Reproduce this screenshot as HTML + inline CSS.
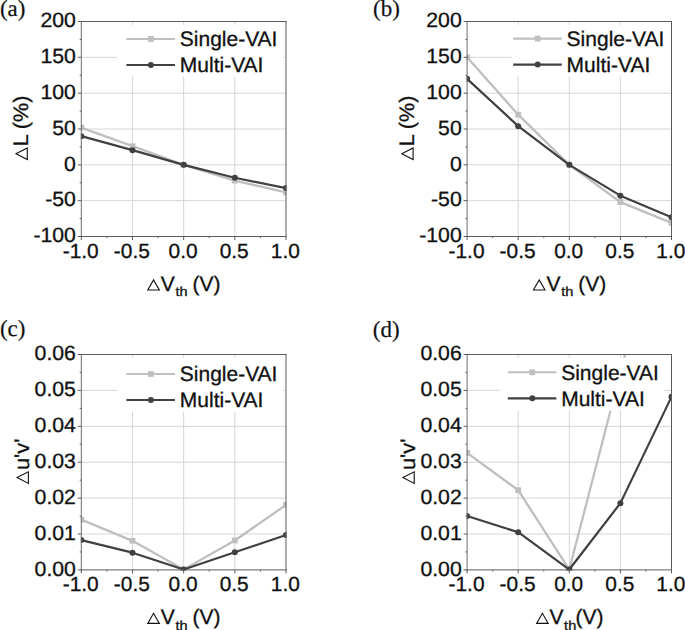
<!DOCTYPE html>
<html lang="en">
<head>
<meta charset="utf-8">
<title>Luminance and chromaticity variation vs threshold-voltage shift</title>
<style>
  html, body { margin: 0; padding: 0; background: #ffffff; }
  body { width: 685px; height: 630px; overflow: hidden; font-family: "Liberation Sans", sans-serif; }
  svg { display: block; }
  text { text-rendering: geometricPrecision; }
</style>
</head>
<body>
<svg width="685" height="630" viewBox="0 0 685 630">
<rect x="0" y="0" width="685" height="630" fill="#ffffff"/>
<g id="panel-a">
<clipPath id="clip1"><rect x="80.80" y="21.00" width="205.70" height="216.00"/></clipPath>
<text x="-0.1" y="15.8" font-family='"Liberation Serif", serif' font-size="23.0" fill="#111111" stroke="#111111" stroke-width="0.2">(a)</text>
<line x1="81.30" x2="286.00" y1="200.67" y2="200.67" stroke="#d6d6d6" stroke-width="1"/>
<line x1="81.30" x2="286.00" y1="164.83" y2="164.83" stroke="#d6d6d6" stroke-width="1"/>
<line x1="81.30" x2="286.00" y1="129.00" y2="129.00" stroke="#d6d6d6" stroke-width="1"/>
<line x1="81.30" x2="286.00" y1="93.17" y2="93.17" stroke="#d6d6d6" stroke-width="1"/>
<line x1="81.30" x2="286.00" y1="57.33" y2="57.33" stroke="#d6d6d6" stroke-width="1"/>
<line x1="132.47" x2="132.47" y1="21.50" y2="236.50" stroke="#d6d6d6" stroke-width="1"/>
<line x1="183.65" x2="183.65" y1="21.50" y2="236.50" stroke="#d6d6d6" stroke-width="1"/>
<line x1="234.82" x2="234.82" y1="21.50" y2="236.50" stroke="#d6d6d6" stroke-width="1"/>
<g clip-path="url(#clip1)">
<polyline points="81.30,127.57 132.47,146.20 183.65,164.83 234.82,180.60 286.00,192.43" fill="none" stroke="#bfbfbf" stroke-width="2.3" stroke-linejoin="round"/>
<rect x="78.40" y="124.67" width="5.8" height="5.8" fill="#bfbfbf"/>
<rect x="129.57" y="143.30" width="5.8" height="5.8" fill="#bfbfbf"/>
<rect x="180.75" y="161.93" width="5.8" height="5.8" fill="#bfbfbf"/>
<rect x="231.92" y="177.70" width="5.8" height="5.8" fill="#bfbfbf"/>
<rect x="283.10" y="189.53" width="5.8" height="5.8" fill="#bfbfbf"/>
<polyline points="81.30,136.17 132.47,150.14 183.65,164.83 234.82,177.73 286.00,188.12" fill="none" stroke="#404040" stroke-width="2.2" stroke-linejoin="round"/>
<circle cx="81.30" cy="136.17" r="3.0" fill="#404040"/>
<circle cx="132.47" cy="150.14" r="3.0" fill="#404040"/>
<circle cx="183.65" cy="164.83" r="3.0" fill="#404040"/>
<circle cx="234.82" cy="177.73" r="3.0" fill="#404040"/>
<circle cx="286.00" cy="188.12" r="3.0" fill="#404040"/>
</g>
<rect x="117.20" y="24.80" width="166.10" height="51.80" fill="#ffffff"/>
<line x1="81.30" x2="81.30" y1="21.00" y2="237.00" stroke="#6c6c6c" stroke-width="1"/>
<line x1="286.00" x2="286.00" y1="21.00" y2="237.00" stroke="#5c5c5c" stroke-width="1"/>
<line x1="80.80" x2="286.50" y1="21.50" y2="21.50" stroke="#5c5c5c" stroke-width="1"/>
<line x1="80.80" x2="286.50" y1="236.50" y2="236.50" stroke="#5c5c5c" stroke-width="1"/>
<line x1="77.80" x2="81.30" y1="236.50" y2="236.50" stroke="#5c5c5c" stroke-width="1"/>
<line x1="79.70" x2="81.30" y1="218.58" y2="218.58" stroke="#5c5c5c" stroke-width="1"/>
<line x1="77.80" x2="81.30" y1="200.67" y2="200.67" stroke="#5c5c5c" stroke-width="1"/>
<line x1="79.70" x2="81.30" y1="182.75" y2="182.75" stroke="#5c5c5c" stroke-width="1"/>
<line x1="77.80" x2="81.30" y1="164.83" y2="164.83" stroke="#5c5c5c" stroke-width="1"/>
<line x1="79.70" x2="81.30" y1="146.92" y2="146.92" stroke="#5c5c5c" stroke-width="1"/>
<line x1="77.80" x2="81.30" y1="129.00" y2="129.00" stroke="#5c5c5c" stroke-width="1"/>
<line x1="79.70" x2="81.30" y1="111.08" y2="111.08" stroke="#5c5c5c" stroke-width="1"/>
<line x1="77.80" x2="81.30" y1="93.17" y2="93.17" stroke="#5c5c5c" stroke-width="1"/>
<line x1="79.70" x2="81.30" y1="75.25" y2="75.25" stroke="#5c5c5c" stroke-width="1"/>
<line x1="77.80" x2="81.30" y1="57.33" y2="57.33" stroke="#5c5c5c" stroke-width="1"/>
<line x1="79.70" x2="81.30" y1="39.42" y2="39.42" stroke="#5c5c5c" stroke-width="1"/>
<line x1="77.80" x2="81.30" y1="21.50" y2="21.50" stroke="#5c5c5c" stroke-width="1"/>
<line x1="81.30" x2="81.30" y1="236.50" y2="240.00" stroke="#5c5c5c" stroke-width="1"/>
<line x1="106.89" x2="106.89" y1="236.50" y2="238.10" stroke="#5c5c5c" stroke-width="1"/>
<line x1="132.47" x2="132.47" y1="236.50" y2="240.00" stroke="#5c5c5c" stroke-width="1"/>
<line x1="158.06" x2="158.06" y1="236.50" y2="238.10" stroke="#5c5c5c" stroke-width="1"/>
<line x1="183.65" x2="183.65" y1="236.50" y2="240.00" stroke="#5c5c5c" stroke-width="1"/>
<line x1="209.24" x2="209.24" y1="236.50" y2="238.10" stroke="#5c5c5c" stroke-width="1"/>
<line x1="234.82" x2="234.82" y1="236.50" y2="240.00" stroke="#5c5c5c" stroke-width="1"/>
<line x1="260.41" x2="260.41" y1="236.50" y2="238.10" stroke="#5c5c5c" stroke-width="1"/>
<line x1="286.00" x2="286.00" y1="236.50" y2="240.00" stroke="#5c5c5c" stroke-width="1"/>
<text transform="translate(75.90,242.20) scale(1.03,1)" font-family='"Liberation Sans", sans-serif' font-size="20.6" text-anchor="end" fill="#111111" stroke="#111111" stroke-width="0.3">-100</text>
<text transform="translate(75.90,206.37) scale(1.03,1)" font-family='"Liberation Sans", sans-serif' font-size="20.6" text-anchor="end" fill="#111111" stroke="#111111" stroke-width="0.3">-50</text>
<text transform="translate(75.90,170.53) scale(1.03,1)" font-family='"Liberation Sans", sans-serif' font-size="20.6" text-anchor="end" fill="#111111" stroke="#111111" stroke-width="0.3">0</text>
<text transform="translate(75.90,134.70) scale(1.03,1)" font-family='"Liberation Sans", sans-serif' font-size="20.6" text-anchor="end" fill="#111111" stroke="#111111" stroke-width="0.3">50</text>
<text transform="translate(75.90,98.87) scale(1.03,1)" font-family='"Liberation Sans", sans-serif' font-size="20.6" text-anchor="end" fill="#111111" stroke="#111111" stroke-width="0.3">100</text>
<text transform="translate(75.90,63.03) scale(1.03,1)" font-family='"Liberation Sans", sans-serif' font-size="20.6" text-anchor="end" fill="#111111" stroke="#111111" stroke-width="0.3">150</text>
<text transform="translate(75.90,27.20) scale(1.03,1)" font-family='"Liberation Sans", sans-serif' font-size="20.6" text-anchor="end" fill="#111111" stroke="#111111" stroke-width="0.3">200</text>
<text transform="translate(80.70,257.70) scale(1.02,1)" font-family='"Liberation Sans", sans-serif' font-size="20.5" text-anchor="middle" fill="#111111" stroke="#111111" stroke-width="0.3">-1.0</text>
<text transform="translate(131.88,257.70) scale(1.02,1)" font-family='"Liberation Sans", sans-serif' font-size="20.5" text-anchor="middle" fill="#111111" stroke="#111111" stroke-width="0.3">-0.5</text>
<text transform="translate(183.05,257.70) scale(1.02,1)" font-family='"Liberation Sans", sans-serif' font-size="20.5" text-anchor="middle" fill="#111111" stroke="#111111" stroke-width="0.3">0.0</text>
<text transform="translate(234.22,257.70) scale(1.02,1)" font-family='"Liberation Sans", sans-serif' font-size="20.5" text-anchor="middle" fill="#111111" stroke="#111111" stroke-width="0.3">0.5</text>
<text transform="translate(285.40,257.70) scale(1.02,1)" font-family='"Liberation Sans", sans-serif' font-size="20.5" text-anchor="middle" fill="#111111" stroke="#111111" stroke-width="0.3">1.0</text>
<line x1="126.40" x2="175.00" y1="39.00" y2="39.00" stroke="#bfbfbf" stroke-width="2.1"/>
<rect x="148.00" y="36.10" width="5.8" height="5.8" fill="#bfbfbf"/>
<line x1="126.40" x2="175.00" y1="65.00" y2="65.00" stroke="#404040" stroke-width="2.2"/>
<circle cx="150.90" cy="65.00" r="3.0" fill="#404040"/>
<text transform="translate(179.80,46.20) scale(1.0,1)" font-family='"Liberation Sans", sans-serif' font-size="21.0" text-anchor="start" fill="#111111" stroke="#111111" stroke-width="0.3">Single-VAI</text>
<text transform="translate(179.80,72.20) scale(1.0,1)" font-family='"Liberation Sans", sans-serif' font-size="21.0" text-anchor="start" fill="#111111" stroke="#111111" stroke-width="0.3">Multi-VAI</text>
<path transform="translate(147.15,290.50)" d="M0.6,-0.5 L12.20,-0.5 L6.40,-10.60 Z" fill="none" stroke="#111111" stroke-width="1.1" stroke-linejoin="miter"/>
<text transform="translate(160.75,290.50) scale(1.0,1)" font-family='"Liberation Sans", sans-serif' font-size="21.0" text-anchor="start" fill="#111111" stroke="#111111" stroke-width="0.3">V</text>
<text transform="translate(175.55,296.30) scale(1.1,1)" font-family='"Liberation Sans", sans-serif' font-size="13.2" text-anchor="start" fill="#111111" stroke="#111111" stroke-width="0.3">th</text>
<text transform="translate(192.55,290.50) scale(1.0,1)" font-family='"Liberation Sans", sans-serif' font-size="21.0" text-anchor="start" fill="#111111" stroke="#111111" stroke-width="0.3">(V)</text>
<path transform="translate(27.80,160.20) rotate(-90)" d="M0.6,-0.5 L12.20,-0.5 L6.40,-11.80 Z" fill="none" stroke="#111111" stroke-width="1.1" stroke-linejoin="miter"/>
<text transform="translate(27.80,146.30) rotate(-90) scale(1.025,1)" font-family='"Liberation Sans", sans-serif' font-size="21.0" text-anchor="start" fill="#111111" stroke="#111111" stroke-width="0.3">L (%)</text>
</g>
<g id="panel-b">
<clipPath id="clip2"><rect x="466.60" y="21.00" width="205.40" height="216.00"/></clipPath>
<text x="373.0" y="15.8" font-family='"Liberation Serif", serif' font-size="23.0" fill="#111111" stroke="#111111" stroke-width="0.2">(b)</text>
<line x1="467.10" x2="671.50" y1="200.67" y2="200.67" stroke="#d6d6d6" stroke-width="1"/>
<line x1="467.10" x2="671.50" y1="164.83" y2="164.83" stroke="#d6d6d6" stroke-width="1"/>
<line x1="467.10" x2="671.50" y1="129.00" y2="129.00" stroke="#d6d6d6" stroke-width="1"/>
<line x1="467.10" x2="671.50" y1="93.17" y2="93.17" stroke="#d6d6d6" stroke-width="1"/>
<line x1="467.10" x2="671.50" y1="57.33" y2="57.33" stroke="#d6d6d6" stroke-width="1"/>
<line x1="518.20" x2="518.20" y1="21.50" y2="236.50" stroke="#d6d6d6" stroke-width="1"/>
<line x1="569.30" x2="569.30" y1="21.50" y2="236.50" stroke="#d6d6d6" stroke-width="1"/>
<line x1="620.40" x2="620.40" y1="21.50" y2="236.50" stroke="#d6d6d6" stroke-width="1"/>
<g clip-path="url(#clip2)">
<polyline points="467.10,57.33 518.20,114.67 569.30,164.83 620.40,202.10 671.50,222.88" fill="none" stroke="#bfbfbf" stroke-width="2.3" stroke-linejoin="round"/>
<rect x="464.20" y="54.43" width="5.8" height="5.8" fill="#bfbfbf"/>
<rect x="515.30" y="111.77" width="5.8" height="5.8" fill="#bfbfbf"/>
<rect x="566.40" y="161.93" width="5.8" height="5.8" fill="#bfbfbf"/>
<rect x="617.50" y="199.20" width="5.8" height="5.8" fill="#bfbfbf"/>
<rect x="668.60" y="219.98" width="5.8" height="5.8" fill="#bfbfbf"/>
<polyline points="467.10,78.83 518.20,126.13 569.30,164.83 620.40,195.65 671.50,217.15" fill="none" stroke="#404040" stroke-width="2.2" stroke-linejoin="round"/>
<circle cx="467.10" cy="78.83" r="3.0" fill="#404040"/>
<circle cx="518.20" cy="126.13" r="3.0" fill="#404040"/>
<circle cx="569.30" cy="164.83" r="3.0" fill="#404040"/>
<circle cx="620.40" cy="195.65" r="3.0" fill="#404040"/>
<circle cx="671.50" cy="217.15" r="3.0" fill="#404040"/>
</g>
<rect x="511.60" y="24.80" width="158.70" height="51.80" fill="#ffffff"/>
<line x1="467.10" x2="467.10" y1="21.00" y2="237.00" stroke="#6c6c6c" stroke-width="1"/>
<line x1="671.50" x2="671.50" y1="21.00" y2="237.00" stroke="#5c5c5c" stroke-width="1"/>
<line x1="466.60" x2="672.00" y1="21.50" y2="21.50" stroke="#5c5c5c" stroke-width="1"/>
<line x1="466.60" x2="672.00" y1="236.50" y2="236.50" stroke="#5c5c5c" stroke-width="1"/>
<line x1="463.60" x2="467.10" y1="236.50" y2="236.50" stroke="#5c5c5c" stroke-width="1"/>
<line x1="465.50" x2="467.10" y1="218.58" y2="218.58" stroke="#5c5c5c" stroke-width="1"/>
<line x1="463.60" x2="467.10" y1="200.67" y2="200.67" stroke="#5c5c5c" stroke-width="1"/>
<line x1="465.50" x2="467.10" y1="182.75" y2="182.75" stroke="#5c5c5c" stroke-width="1"/>
<line x1="463.60" x2="467.10" y1="164.83" y2="164.83" stroke="#5c5c5c" stroke-width="1"/>
<line x1="465.50" x2="467.10" y1="146.92" y2="146.92" stroke="#5c5c5c" stroke-width="1"/>
<line x1="463.60" x2="467.10" y1="129.00" y2="129.00" stroke="#5c5c5c" stroke-width="1"/>
<line x1="465.50" x2="467.10" y1="111.08" y2="111.08" stroke="#5c5c5c" stroke-width="1"/>
<line x1="463.60" x2="467.10" y1="93.17" y2="93.17" stroke="#5c5c5c" stroke-width="1"/>
<line x1="465.50" x2="467.10" y1="75.25" y2="75.25" stroke="#5c5c5c" stroke-width="1"/>
<line x1="463.60" x2="467.10" y1="57.33" y2="57.33" stroke="#5c5c5c" stroke-width="1"/>
<line x1="465.50" x2="467.10" y1="39.42" y2="39.42" stroke="#5c5c5c" stroke-width="1"/>
<line x1="463.60" x2="467.10" y1="21.50" y2="21.50" stroke="#5c5c5c" stroke-width="1"/>
<line x1="467.10" x2="467.10" y1="236.50" y2="240.00" stroke="#5c5c5c" stroke-width="1"/>
<line x1="492.65" x2="492.65" y1="236.50" y2="238.10" stroke="#5c5c5c" stroke-width="1"/>
<line x1="518.20" x2="518.20" y1="236.50" y2="240.00" stroke="#5c5c5c" stroke-width="1"/>
<line x1="543.75" x2="543.75" y1="236.50" y2="238.10" stroke="#5c5c5c" stroke-width="1"/>
<line x1="569.30" x2="569.30" y1="236.50" y2="240.00" stroke="#5c5c5c" stroke-width="1"/>
<line x1="594.85" x2="594.85" y1="236.50" y2="238.10" stroke="#5c5c5c" stroke-width="1"/>
<line x1="620.40" x2="620.40" y1="236.50" y2="240.00" stroke="#5c5c5c" stroke-width="1"/>
<line x1="645.95" x2="645.95" y1="236.50" y2="238.10" stroke="#5c5c5c" stroke-width="1"/>
<line x1="671.50" x2="671.50" y1="236.50" y2="240.00" stroke="#5c5c5c" stroke-width="1"/>
<text transform="translate(461.70,242.20) scale(1.03,1)" font-family='"Liberation Sans", sans-serif' font-size="20.6" text-anchor="end" fill="#111111" stroke="#111111" stroke-width="0.3">-100</text>
<text transform="translate(461.70,206.37) scale(1.03,1)" font-family='"Liberation Sans", sans-serif' font-size="20.6" text-anchor="end" fill="#111111" stroke="#111111" stroke-width="0.3">-50</text>
<text transform="translate(461.70,170.53) scale(1.03,1)" font-family='"Liberation Sans", sans-serif' font-size="20.6" text-anchor="end" fill="#111111" stroke="#111111" stroke-width="0.3">0</text>
<text transform="translate(461.70,134.70) scale(1.03,1)" font-family='"Liberation Sans", sans-serif' font-size="20.6" text-anchor="end" fill="#111111" stroke="#111111" stroke-width="0.3">50</text>
<text transform="translate(461.70,98.87) scale(1.03,1)" font-family='"Liberation Sans", sans-serif' font-size="20.6" text-anchor="end" fill="#111111" stroke="#111111" stroke-width="0.3">100</text>
<text transform="translate(461.70,63.03) scale(1.03,1)" font-family='"Liberation Sans", sans-serif' font-size="20.6" text-anchor="end" fill="#111111" stroke="#111111" stroke-width="0.3">150</text>
<text transform="translate(461.70,27.20) scale(1.03,1)" font-family='"Liberation Sans", sans-serif' font-size="20.6" text-anchor="end" fill="#111111" stroke="#111111" stroke-width="0.3">200</text>
<text transform="translate(466.50,257.70) scale(1.02,1)" font-family='"Liberation Sans", sans-serif' font-size="20.5" text-anchor="middle" fill="#111111" stroke="#111111" stroke-width="0.3">-1.0</text>
<text transform="translate(517.60,257.70) scale(1.02,1)" font-family='"Liberation Sans", sans-serif' font-size="20.5" text-anchor="middle" fill="#111111" stroke="#111111" stroke-width="0.3">-0.5</text>
<text transform="translate(568.70,257.70) scale(1.02,1)" font-family='"Liberation Sans", sans-serif' font-size="20.5" text-anchor="middle" fill="#111111" stroke="#111111" stroke-width="0.3">0.0</text>
<text transform="translate(619.80,257.70) scale(1.02,1)" font-family='"Liberation Sans", sans-serif' font-size="20.5" text-anchor="middle" fill="#111111" stroke="#111111" stroke-width="0.3">0.5</text>
<text transform="translate(670.90,257.70) scale(1.02,1)" font-family='"Liberation Sans", sans-serif' font-size="20.5" text-anchor="middle" fill="#111111" stroke="#111111" stroke-width="0.3">1.0</text>
<line x1="513.20" x2="561.80" y1="38.60" y2="38.60" stroke="#bfbfbf" stroke-width="2.1"/>
<rect x="534.80" y="35.70" width="5.8" height="5.8" fill="#bfbfbf"/>
<line x1="513.20" x2="561.80" y1="64.60" y2="64.60" stroke="#404040" stroke-width="2.2"/>
<circle cx="537.70" cy="64.60" r="3.0" fill="#404040"/>
<text transform="translate(566.60,45.80) scale(1.0,1)" font-family='"Liberation Sans", sans-serif' font-size="21.0" text-anchor="start" fill="#111111" stroke="#111111" stroke-width="0.3">Single-VAI</text>
<text transform="translate(566.60,71.80) scale(1.0,1)" font-family='"Liberation Sans", sans-serif' font-size="21.0" text-anchor="start" fill="#111111" stroke="#111111" stroke-width="0.3">Multi-VAI</text>
<path transform="translate(532.80,290.50)" d="M0.6,-0.5 L12.20,-0.5 L6.40,-10.60 Z" fill="none" stroke="#111111" stroke-width="1.1" stroke-linejoin="miter"/>
<text transform="translate(546.40,290.50) scale(1.0,1)" font-family='"Liberation Sans", sans-serif' font-size="21.0" text-anchor="start" fill="#111111" stroke="#111111" stroke-width="0.3">V</text>
<text transform="translate(561.20,296.30) scale(1.1,1)" font-family='"Liberation Sans", sans-serif' font-size="13.2" text-anchor="start" fill="#111111" stroke="#111111" stroke-width="0.3">th</text>
<text transform="translate(578.20,290.50) scale(1.0,1)" font-family='"Liberation Sans", sans-serif' font-size="21.0" text-anchor="start" fill="#111111" stroke="#111111" stroke-width="0.3">(V)</text>
<path transform="translate(413.60,160.20) rotate(-90)" d="M0.6,-0.5 L12.20,-0.5 L6.40,-11.80 Z" fill="none" stroke="#111111" stroke-width="1.1" stroke-linejoin="miter"/>
<text transform="translate(413.60,146.30) rotate(-90) scale(1.025,1)" font-family='"Liberation Sans", sans-serif' font-size="21.0" text-anchor="start" fill="#111111" stroke="#111111" stroke-width="0.3">L (%)</text>
</g>
<g id="panel-c">
<clipPath id="clip3"><rect x="80.80" y="354.00" width="205.70" height="216.40"/></clipPath>
<text x="-0.1" y="336.4" font-family='"Liberation Serif", serif' font-size="23.0" fill="#111111" stroke="#111111" stroke-width="0.2">(c)</text>
<line x1="81.30" x2="286.00" y1="534.00" y2="534.00" stroke="#d6d6d6" stroke-width="1"/>
<line x1="81.30" x2="286.00" y1="498.10" y2="498.10" stroke="#d6d6d6" stroke-width="1"/>
<line x1="81.30" x2="286.00" y1="462.20" y2="462.20" stroke="#d6d6d6" stroke-width="1"/>
<line x1="81.30" x2="286.00" y1="426.30" y2="426.30" stroke="#d6d6d6" stroke-width="1"/>
<line x1="81.30" x2="286.00" y1="390.40" y2="390.40" stroke="#d6d6d6" stroke-width="1"/>
<line x1="132.47" x2="132.47" y1="354.50" y2="569.90" stroke="#d6d6d6" stroke-width="1"/>
<line x1="183.65" x2="183.65" y1="354.50" y2="569.90" stroke="#d6d6d6" stroke-width="1"/>
<line x1="234.82" x2="234.82" y1="354.50" y2="569.90" stroke="#d6d6d6" stroke-width="1"/>
<g clip-path="url(#clip3)">
<polyline points="81.30,519.64 132.47,540.82 183.65,569.54 234.82,540.46 286.00,504.92" fill="none" stroke="#bfbfbf" stroke-width="2.3" stroke-linejoin="round"/>
<rect x="78.40" y="516.74" width="5.8" height="5.8" fill="#bfbfbf"/>
<rect x="129.57" y="537.92" width="5.8" height="5.8" fill="#bfbfbf"/>
<rect x="180.75" y="566.64" width="5.8" height="5.8" fill="#bfbfbf"/>
<rect x="231.92" y="537.56" width="5.8" height="5.8" fill="#bfbfbf"/>
<rect x="283.10" y="502.02" width="5.8" height="5.8" fill="#bfbfbf"/>
<polyline points="81.30,540.10 132.47,552.67 183.65,569.54 234.82,552.31 286.00,535.08" fill="none" stroke="#404040" stroke-width="2.2" stroke-linejoin="round"/>
<circle cx="81.30" cy="540.10" r="3.0" fill="#404040"/>
<circle cx="132.47" cy="552.67" r="3.0" fill="#404040"/>
<circle cx="183.65" cy="569.54" r="3.0" fill="#404040"/>
<circle cx="234.82" cy="552.31" r="3.0" fill="#404040"/>
<circle cx="286.00" cy="535.08" r="3.0" fill="#404040"/>
</g>
<rect x="117.50" y="357.80" width="165.40" height="54.10" fill="#ffffff"/>
<line x1="81.30" x2="81.30" y1="354.00" y2="570.40" stroke="#6c6c6c" stroke-width="1"/>
<line x1="286.00" x2="286.00" y1="354.00" y2="570.40" stroke="#5c5c5c" stroke-width="1"/>
<line x1="80.80" x2="286.50" y1="354.50" y2="354.50" stroke="#5c5c5c" stroke-width="1"/>
<line x1="80.80" x2="286.50" y1="569.90" y2="569.90" stroke="#5c5c5c" stroke-width="1"/>
<line x1="77.80" x2="81.30" y1="569.90" y2="569.90" stroke="#5c5c5c" stroke-width="1"/>
<line x1="79.70" x2="81.30" y1="551.95" y2="551.95" stroke="#5c5c5c" stroke-width="1"/>
<line x1="77.80" x2="81.30" y1="534.00" y2="534.00" stroke="#5c5c5c" stroke-width="1"/>
<line x1="79.70" x2="81.30" y1="516.05" y2="516.05" stroke="#5c5c5c" stroke-width="1"/>
<line x1="77.80" x2="81.30" y1="498.10" y2="498.10" stroke="#5c5c5c" stroke-width="1"/>
<line x1="79.70" x2="81.30" y1="480.15" y2="480.15" stroke="#5c5c5c" stroke-width="1"/>
<line x1="77.80" x2="81.30" y1="462.20" y2="462.20" stroke="#5c5c5c" stroke-width="1"/>
<line x1="79.70" x2="81.30" y1="444.25" y2="444.25" stroke="#5c5c5c" stroke-width="1"/>
<line x1="77.80" x2="81.30" y1="426.30" y2="426.30" stroke="#5c5c5c" stroke-width="1"/>
<line x1="79.70" x2="81.30" y1="408.35" y2="408.35" stroke="#5c5c5c" stroke-width="1"/>
<line x1="77.80" x2="81.30" y1="390.40" y2="390.40" stroke="#5c5c5c" stroke-width="1"/>
<line x1="79.70" x2="81.30" y1="372.45" y2="372.45" stroke="#5c5c5c" stroke-width="1"/>
<line x1="77.80" x2="81.30" y1="354.50" y2="354.50" stroke="#5c5c5c" stroke-width="1"/>
<line x1="81.30" x2="81.30" y1="569.90" y2="573.40" stroke="#5c5c5c" stroke-width="1"/>
<line x1="106.89" x2="106.89" y1="569.90" y2="571.50" stroke="#5c5c5c" stroke-width="1"/>
<line x1="132.47" x2="132.47" y1="569.90" y2="573.40" stroke="#5c5c5c" stroke-width="1"/>
<line x1="158.06" x2="158.06" y1="569.90" y2="571.50" stroke="#5c5c5c" stroke-width="1"/>
<line x1="183.65" x2="183.65" y1="569.90" y2="573.40" stroke="#5c5c5c" stroke-width="1"/>
<line x1="209.24" x2="209.24" y1="569.90" y2="571.50" stroke="#5c5c5c" stroke-width="1"/>
<line x1="234.82" x2="234.82" y1="569.90" y2="573.40" stroke="#5c5c5c" stroke-width="1"/>
<line x1="260.41" x2="260.41" y1="569.90" y2="571.50" stroke="#5c5c5c" stroke-width="1"/>
<line x1="286.00" x2="286.00" y1="569.90" y2="573.40" stroke="#5c5c5c" stroke-width="1"/>
<text transform="translate(75.90,575.60) scale(1.03,1)" font-family='"Liberation Sans", sans-serif' font-size="20.6" text-anchor="end" fill="#111111" stroke="#111111" stroke-width="0.3">0.00</text>
<text transform="translate(75.90,539.70) scale(1.03,1)" font-family='"Liberation Sans", sans-serif' font-size="20.6" text-anchor="end" fill="#111111" stroke="#111111" stroke-width="0.3">0.01</text>
<text transform="translate(75.90,503.80) scale(1.03,1)" font-family='"Liberation Sans", sans-serif' font-size="20.6" text-anchor="end" fill="#111111" stroke="#111111" stroke-width="0.3">0.02</text>
<text transform="translate(75.90,467.90) scale(1.03,1)" font-family='"Liberation Sans", sans-serif' font-size="20.6" text-anchor="end" fill="#111111" stroke="#111111" stroke-width="0.3">0.03</text>
<text transform="translate(75.90,432.00) scale(1.03,1)" font-family='"Liberation Sans", sans-serif' font-size="20.6" text-anchor="end" fill="#111111" stroke="#111111" stroke-width="0.3">0.04</text>
<text transform="translate(75.90,396.10) scale(1.03,1)" font-family='"Liberation Sans", sans-serif' font-size="20.6" text-anchor="end" fill="#111111" stroke="#111111" stroke-width="0.3">0.05</text>
<text transform="translate(75.90,360.20) scale(1.03,1)" font-family='"Liberation Sans", sans-serif' font-size="20.6" text-anchor="end" fill="#111111" stroke="#111111" stroke-width="0.3">0.06</text>
<text transform="translate(80.70,591.10) scale(1.02,1)" font-family='"Liberation Sans", sans-serif' font-size="20.5" text-anchor="middle" fill="#111111" stroke="#111111" stroke-width="0.3">-1.0</text>
<text transform="translate(131.88,591.10) scale(1.02,1)" font-family='"Liberation Sans", sans-serif' font-size="20.5" text-anchor="middle" fill="#111111" stroke="#111111" stroke-width="0.3">-0.5</text>
<text transform="translate(183.05,591.10) scale(1.02,1)" font-family='"Liberation Sans", sans-serif' font-size="20.5" text-anchor="middle" fill="#111111" stroke="#111111" stroke-width="0.3">0.0</text>
<text transform="translate(234.22,591.10) scale(1.02,1)" font-family='"Liberation Sans", sans-serif' font-size="20.5" text-anchor="middle" fill="#111111" stroke="#111111" stroke-width="0.3">0.5</text>
<text transform="translate(285.40,591.10) scale(1.02,1)" font-family='"Liberation Sans", sans-serif' font-size="20.5" text-anchor="middle" fill="#111111" stroke="#111111" stroke-width="0.3">1.0</text>
<line x1="126.40" x2="175.00" y1="374.00" y2="374.00" stroke="#bfbfbf" stroke-width="2.1"/>
<rect x="148.00" y="371.10" width="5.8" height="5.8" fill="#bfbfbf"/>
<line x1="126.40" x2="175.00" y1="400.00" y2="400.00" stroke="#404040" stroke-width="2.2"/>
<circle cx="150.90" cy="400.00" r="3.0" fill="#404040"/>
<text transform="translate(179.80,381.20) scale(1.0,1)" font-family='"Liberation Sans", sans-serif' font-size="21.0" text-anchor="start" fill="#111111" stroke="#111111" stroke-width="0.3">Single-VAI</text>
<text transform="translate(179.80,407.20) scale(1.0,1)" font-family='"Liberation Sans", sans-serif' font-size="21.0" text-anchor="start" fill="#111111" stroke="#111111" stroke-width="0.3">Multi-VAI</text>
<path transform="translate(147.15,623.90)" d="M0.6,-0.5 L12.20,-0.5 L6.40,-10.60 Z" fill="none" stroke="#111111" stroke-width="1.1" stroke-linejoin="miter"/>
<text transform="translate(160.75,623.90) scale(1.0,1)" font-family='"Liberation Sans", sans-serif' font-size="21.0" text-anchor="start" fill="#111111" stroke="#111111" stroke-width="0.3">V</text>
<text transform="translate(175.55,629.70) scale(1.1,1)" font-family='"Liberation Sans", sans-serif' font-size="13.2" text-anchor="start" fill="#111111" stroke="#111111" stroke-width="0.3">th</text>
<text transform="translate(192.55,623.90) scale(1.0,1)" font-family='"Liberation Sans", sans-serif' font-size="21.0" text-anchor="start" fill="#111111" stroke="#111111" stroke-width="0.3">(V)</text>
<path transform="translate(28.90,484.00) rotate(-90)" d="M0.6,-0.5 L12.20,-0.5 L6.40,-11.80 Z" fill="none" stroke="#111111" stroke-width="1.1" stroke-linejoin="miter"/>
<text transform="translate(28.90,470.10) rotate(-90) scale(1.04,1)" font-family='"Liberation Sans", sans-serif' font-size="21.0" text-anchor="start" fill="#111111" stroke="#111111" stroke-width="0.3">u'v'</text>
</g>
<g id="panel-d">
<clipPath id="clip4"><rect x="466.60" y="354.00" width="205.40" height="216.40"/></clipPath>
<text x="372.8" y="336.6" font-family='"Liberation Serif", serif' font-size="23.0" fill="#111111" stroke="#111111" stroke-width="0.2">(d)</text>
<line x1="467.10" x2="671.50" y1="534.00" y2="534.00" stroke="#d6d6d6" stroke-width="1"/>
<line x1="467.10" x2="671.50" y1="498.10" y2="498.10" stroke="#d6d6d6" stroke-width="1"/>
<line x1="467.10" x2="671.50" y1="462.20" y2="462.20" stroke="#d6d6d6" stroke-width="1"/>
<line x1="467.10" x2="671.50" y1="426.30" y2="426.30" stroke="#d6d6d6" stroke-width="1"/>
<line x1="467.10" x2="671.50" y1="390.40" y2="390.40" stroke="#d6d6d6" stroke-width="1"/>
<line x1="518.20" x2="518.20" y1="354.50" y2="569.90" stroke="#d6d6d6" stroke-width="1"/>
<line x1="569.30" x2="569.30" y1="354.50" y2="569.90" stroke="#d6d6d6" stroke-width="1"/>
<line x1="620.40" x2="620.40" y1="354.50" y2="569.90" stroke="#d6d6d6" stroke-width="1"/>
<g clip-path="url(#clip4)">
<polyline points="467.10,452.87 518.20,490.20 569.30,569.54 620.40,372.45 671.50,175.00" fill="none" stroke="#bfbfbf" stroke-width="2.3" stroke-linejoin="round"/>
<rect x="464.20" y="449.97" width="5.8" height="5.8" fill="#bfbfbf"/>
<rect x="515.30" y="487.30" width="5.8" height="5.8" fill="#bfbfbf"/>
<rect x="566.40" y="566.64" width="5.8" height="5.8" fill="#bfbfbf"/>
<rect x="617.50" y="369.55" width="5.8" height="5.8" fill="#bfbfbf"/>
<rect x="668.60" y="172.10" width="5.8" height="5.8" fill="#bfbfbf"/>
<polyline points="467.10,516.05 518.20,532.20 569.30,569.54 620.40,503.13 671.50,396.86" fill="none" stroke="#404040" stroke-width="2.2" stroke-linejoin="round"/>
<circle cx="467.10" cy="516.05" r="3.0" fill="#404040"/>
<circle cx="518.20" cy="532.20" r="3.0" fill="#404040"/>
<circle cx="569.30" cy="569.54" r="3.0" fill="#404040"/>
<circle cx="620.40" cy="503.13" r="3.0" fill="#404040"/>
<circle cx="671.50" cy="396.86" r="3.0" fill="#404040"/>
</g>
<rect x="499.50" y="357.80" width="164.50" height="53.00" fill="#ffffff"/>
<line x1="467.10" x2="467.10" y1="354.00" y2="570.40" stroke="#6c6c6c" stroke-width="1"/>
<line x1="671.50" x2="671.50" y1="354.00" y2="570.40" stroke="#5c5c5c" stroke-width="1"/>
<line x1="466.60" x2="672.00" y1="354.50" y2="354.50" stroke="#5c5c5c" stroke-width="1"/>
<line x1="466.60" x2="672.00" y1="569.90" y2="569.90" stroke="#5c5c5c" stroke-width="1"/>
<line x1="463.60" x2="467.10" y1="569.90" y2="569.90" stroke="#5c5c5c" stroke-width="1"/>
<line x1="465.50" x2="467.10" y1="551.95" y2="551.95" stroke="#5c5c5c" stroke-width="1"/>
<line x1="463.60" x2="467.10" y1="534.00" y2="534.00" stroke="#5c5c5c" stroke-width="1"/>
<line x1="465.50" x2="467.10" y1="516.05" y2="516.05" stroke="#5c5c5c" stroke-width="1"/>
<line x1="463.60" x2="467.10" y1="498.10" y2="498.10" stroke="#5c5c5c" stroke-width="1"/>
<line x1="465.50" x2="467.10" y1="480.15" y2="480.15" stroke="#5c5c5c" stroke-width="1"/>
<line x1="463.60" x2="467.10" y1="462.20" y2="462.20" stroke="#5c5c5c" stroke-width="1"/>
<line x1="465.50" x2="467.10" y1="444.25" y2="444.25" stroke="#5c5c5c" stroke-width="1"/>
<line x1="463.60" x2="467.10" y1="426.30" y2="426.30" stroke="#5c5c5c" stroke-width="1"/>
<line x1="465.50" x2="467.10" y1="408.35" y2="408.35" stroke="#5c5c5c" stroke-width="1"/>
<line x1="463.60" x2="467.10" y1="390.40" y2="390.40" stroke="#5c5c5c" stroke-width="1"/>
<line x1="465.50" x2="467.10" y1="372.45" y2="372.45" stroke="#5c5c5c" stroke-width="1"/>
<line x1="463.60" x2="467.10" y1="354.50" y2="354.50" stroke="#5c5c5c" stroke-width="1"/>
<line x1="467.10" x2="467.10" y1="569.90" y2="573.40" stroke="#5c5c5c" stroke-width="1"/>
<line x1="492.65" x2="492.65" y1="569.90" y2="571.50" stroke="#5c5c5c" stroke-width="1"/>
<line x1="518.20" x2="518.20" y1="569.90" y2="573.40" stroke="#5c5c5c" stroke-width="1"/>
<line x1="543.75" x2="543.75" y1="569.90" y2="571.50" stroke="#5c5c5c" stroke-width="1"/>
<line x1="569.30" x2="569.30" y1="569.90" y2="573.40" stroke="#5c5c5c" stroke-width="1"/>
<line x1="594.85" x2="594.85" y1="569.90" y2="571.50" stroke="#5c5c5c" stroke-width="1"/>
<line x1="620.40" x2="620.40" y1="569.90" y2="573.40" stroke="#5c5c5c" stroke-width="1"/>
<line x1="645.95" x2="645.95" y1="569.90" y2="571.50" stroke="#5c5c5c" stroke-width="1"/>
<line x1="671.50" x2="671.50" y1="569.90" y2="573.40" stroke="#5c5c5c" stroke-width="1"/>
<text transform="translate(461.70,575.60) scale(1.03,1)" font-family='"Liberation Sans", sans-serif' font-size="20.6" text-anchor="end" fill="#111111" stroke="#111111" stroke-width="0.3">0.00</text>
<text transform="translate(461.70,539.70) scale(1.03,1)" font-family='"Liberation Sans", sans-serif' font-size="20.6" text-anchor="end" fill="#111111" stroke="#111111" stroke-width="0.3">0.01</text>
<text transform="translate(461.70,503.80) scale(1.03,1)" font-family='"Liberation Sans", sans-serif' font-size="20.6" text-anchor="end" fill="#111111" stroke="#111111" stroke-width="0.3">0.02</text>
<text transform="translate(461.70,467.90) scale(1.03,1)" font-family='"Liberation Sans", sans-serif' font-size="20.6" text-anchor="end" fill="#111111" stroke="#111111" stroke-width="0.3">0.03</text>
<text transform="translate(461.70,432.00) scale(1.03,1)" font-family='"Liberation Sans", sans-serif' font-size="20.6" text-anchor="end" fill="#111111" stroke="#111111" stroke-width="0.3">0.04</text>
<text transform="translate(461.70,396.10) scale(1.03,1)" font-family='"Liberation Sans", sans-serif' font-size="20.6" text-anchor="end" fill="#111111" stroke="#111111" stroke-width="0.3">0.05</text>
<text transform="translate(461.70,360.20) scale(1.03,1)" font-family='"Liberation Sans", sans-serif' font-size="20.6" text-anchor="end" fill="#111111" stroke="#111111" stroke-width="0.3">0.06</text>
<text transform="translate(466.50,591.10) scale(1.02,1)" font-family='"Liberation Sans", sans-serif' font-size="20.5" text-anchor="middle" fill="#111111" stroke="#111111" stroke-width="0.3">-1.0</text>
<text transform="translate(517.60,591.10) scale(1.02,1)" font-family='"Liberation Sans", sans-serif' font-size="20.5" text-anchor="middle" fill="#111111" stroke="#111111" stroke-width="0.3">-0.5</text>
<text transform="translate(568.70,591.10) scale(1.02,1)" font-family='"Liberation Sans", sans-serif' font-size="20.5" text-anchor="middle" fill="#111111" stroke="#111111" stroke-width="0.3">0.0</text>
<text transform="translate(619.80,591.10) scale(1.02,1)" font-family='"Liberation Sans", sans-serif' font-size="20.5" text-anchor="middle" fill="#111111" stroke="#111111" stroke-width="0.3">0.5</text>
<text transform="translate(670.90,591.10) scale(1.02,1)" font-family='"Liberation Sans", sans-serif' font-size="20.5" text-anchor="middle" fill="#111111" stroke="#111111" stroke-width="0.3">1.0</text>
<line x1="507.80" x2="556.40" y1="372.30" y2="372.30" stroke="#bfbfbf" stroke-width="2.1"/>
<rect x="529.40" y="369.40" width="5.8" height="5.8" fill="#bfbfbf"/>
<line x1="507.80" x2="556.40" y1="398.30" y2="398.30" stroke="#404040" stroke-width="2.2"/>
<circle cx="532.30" cy="398.30" r="3.0" fill="#404040"/>
<text transform="translate(561.20,379.50) scale(1.0,1)" font-family='"Liberation Sans", sans-serif' font-size="21.0" text-anchor="start" fill="#111111" stroke="#111111" stroke-width="0.3">Single-VAI</text>
<text transform="translate(561.20,405.50) scale(1.0,1)" font-family='"Liberation Sans", sans-serif' font-size="21.0" text-anchor="start" fill="#111111" stroke="#111111" stroke-width="0.3">Multi-VAI</text>
<path transform="translate(536.00,623.90)" d="M0.6,-0.5 L12.20,-0.5 L6.40,-10.60 Z" fill="none" stroke="#111111" stroke-width="1.1" stroke-linejoin="miter"/>
<text transform="translate(549.60,623.90) scale(1.0,1)" font-family='"Liberation Sans", sans-serif' font-size="21.0" text-anchor="start" fill="#111111" stroke="#111111" stroke-width="0.3">V</text>
<text transform="translate(564.10,629.70) scale(1.1,1)" font-family='"Liberation Sans", sans-serif' font-size="13.2" text-anchor="start" fill="#111111" stroke="#111111" stroke-width="0.3">th</text>
<text transform="translate(575.60,623.90) scale(1.0,1)" font-family='"Liberation Sans", sans-serif' font-size="21.0" text-anchor="start" fill="#111111" stroke="#111111" stroke-width="0.3">(V)</text>
<path transform="translate(414.70,484.00) rotate(-90)" d="M0.6,-0.5 L12.20,-0.5 L6.40,-11.80 Z" fill="none" stroke="#111111" stroke-width="1.1" stroke-linejoin="miter"/>
<text transform="translate(414.70,470.10) rotate(-90) scale(1.04,1)" font-family='"Liberation Sans", sans-serif' font-size="21.0" text-anchor="start" fill="#111111" stroke="#111111" stroke-width="0.3">u'v'</text>
</g>
</svg>
</body>
</html>
